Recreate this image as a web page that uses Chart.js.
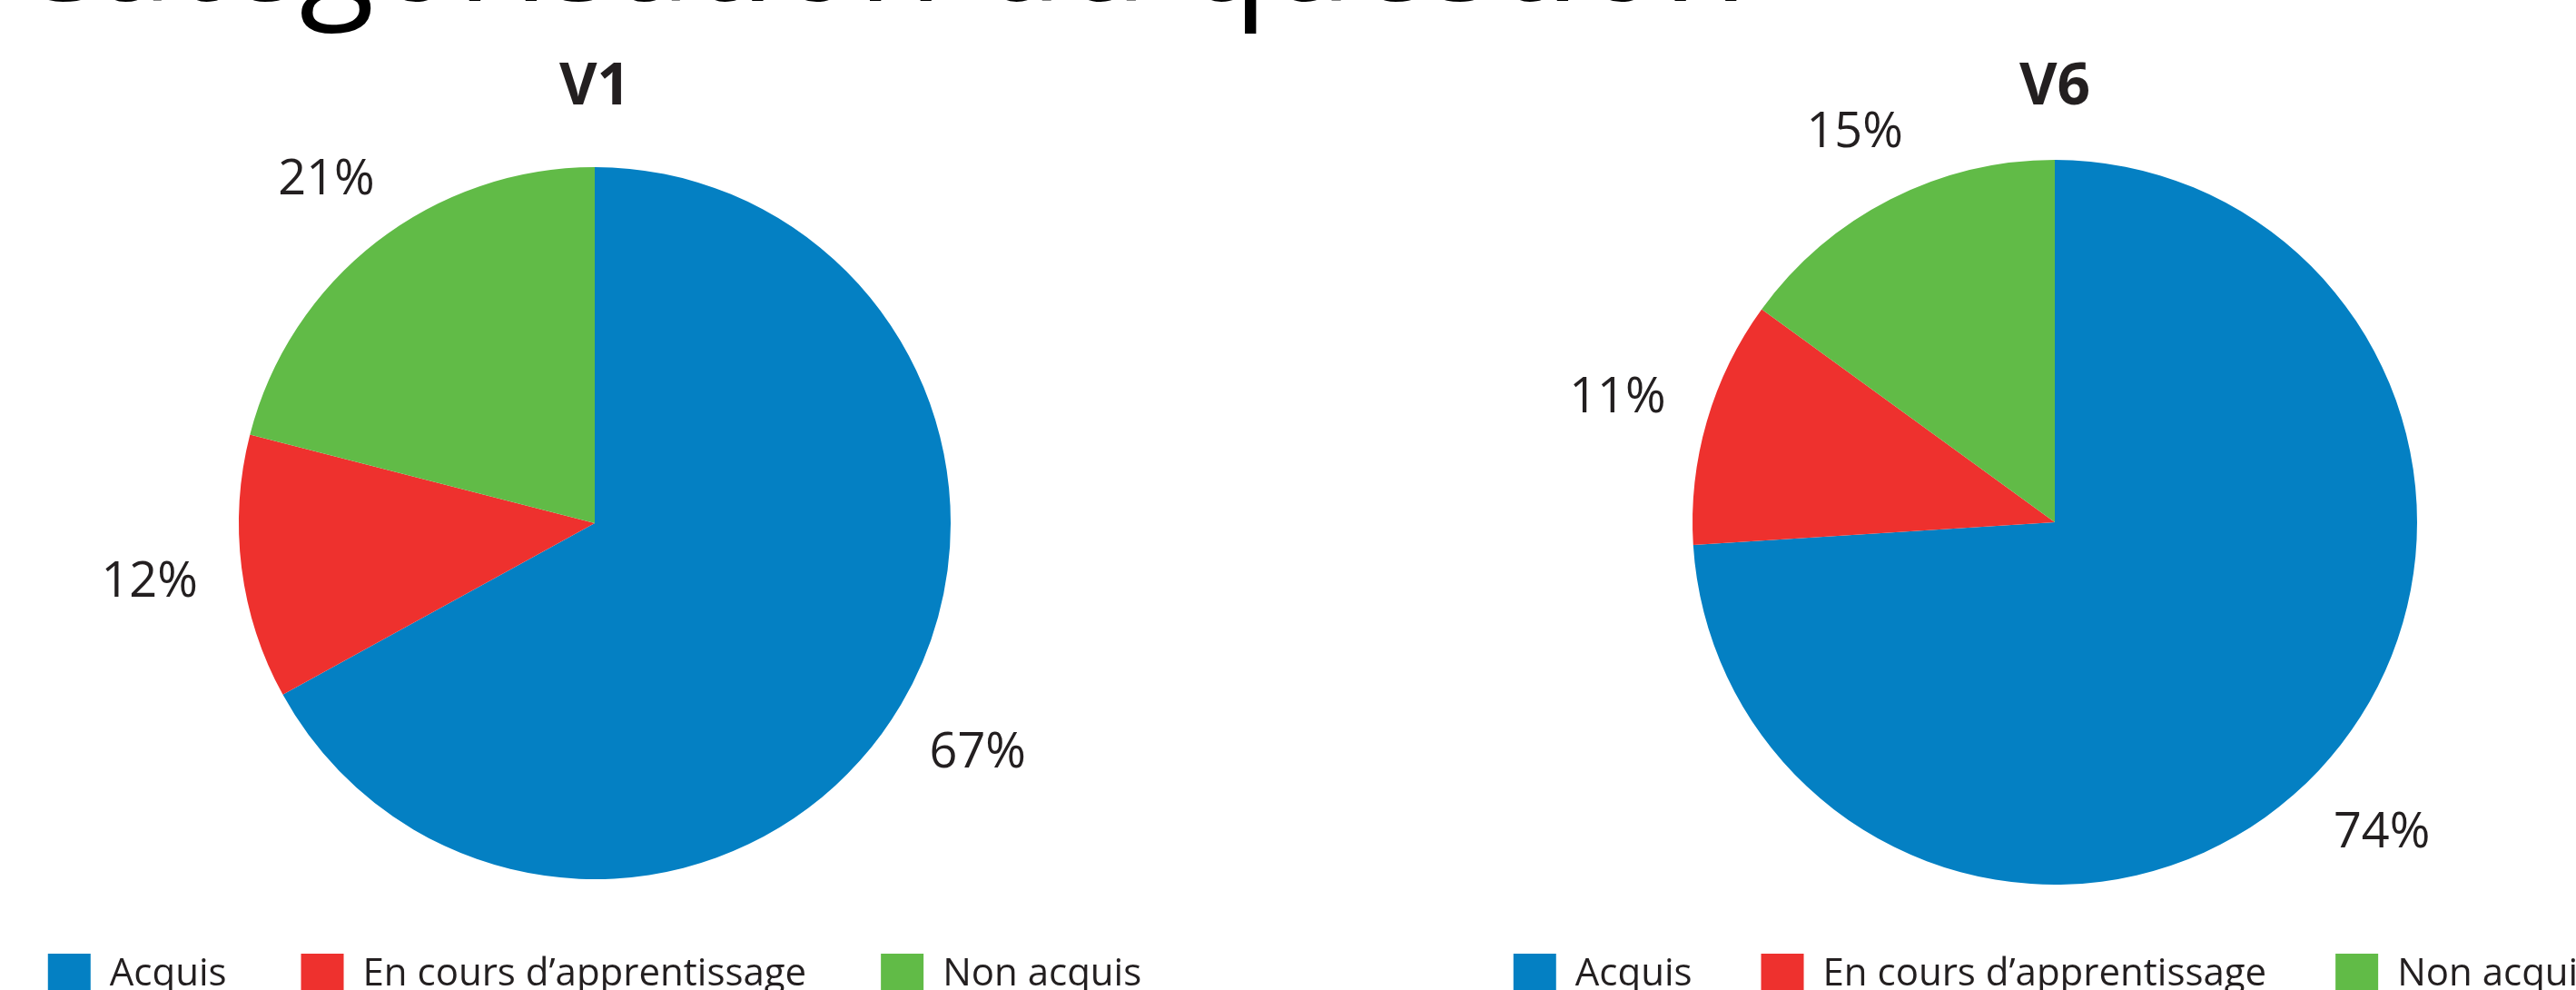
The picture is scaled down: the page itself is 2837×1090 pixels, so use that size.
<!DOCTYPE html>
<html lang="fr">
<head>
<meta charset="utf-8">
<title>V1 / V6</title>
<script src="https://cdn.jsdelivr.net/npm/chart.js@4.4.0/dist/chart.umd.min.js"></script>
<style>
    html, body {
        margin: 0;
        padding: 0;
        width: 2837px;
        height: 1090px;
        overflow: hidden;
        background: #ffffff;
        font-family: "Open Sans", sans-serif;
    }
    .page-title {
        position: absolute;
        left: 10px;
        top: -133px;
        font-size: 152px;
        line-height: 1;
        color: #000000;
        white-space: nowrap;
    }
    .chart-box {
        position: absolute;
        top: 0;
        width: 1500px;
        height: 1107px;
    }
    #boxV1 { left: -95px; }
    #boxV6 { left: 1513px; }
</style>
</head>
<body>
<div class="page-title">Catégorisation du question</div>
<div class="chart-box" id="boxV1"><canvas id="chartV1"></canvas></div>
<div class="chart-box" id="boxV6"><canvas id="chartV6"></canvas></div>

<script>
const categories = ["Acquis", "En cours d’apprentissage", "Non acquis"];
const v1Values = [67, 12, 21];
const v6Values = [74, 11, 15];
const chartTitles = ["V1", "V6"];

const sliceColors = ["#0480c3", "#ee312e", "#61bb47"];
const textColor = "#231f20";
const fontFamily = "'Open Sans', 'Noto Sans', sans-serif";

// percentage labels drawn just outside each slice
const outsideLabels = {
    id: "outsideLabels",
    afterDatasetsDraw(chart) {
        const ctx = chart.ctx;
        const meta = chart.getDatasetMeta(0);
        const values = chart.data.datasets[0].data;

        ctx.save();
        ctx.font = "54px " + fontFamily;
        ctx.fillStyle = textColor;
        ctx.textAlign = "center";
        ctx.textBaseline = "middle";

        meta.data.forEach((arc, i) => {
            const p = arc.getProps(["x", "y", "startAngle", "endAngle", "outerRadius"], true);
            const mid = (p.startAngle + p.endAngle) / 2;
            const text = values[i] + "%";
            const hw = ctx.measureText(text).width / 2;
            const dist = p.outerRadius * 1.18 + hw * Math.abs(Math.cos(mid)) * 0.6;
            ctx.fillText(text, p.x + Math.cos(mid) * dist, p.y + Math.sin(mid) * dist + 4);
        });
        ctx.restore();
    }
};

function makePie(canvasId, title, values, titleGap, legendGap) {
    const ctx = document.getElementById(canvasId).getContext("2d");

    return new Chart(ctx, {
        type: "pie",
        data: {
            labels: categories,
            datasets: [{
                data: values,
                backgroundColor: sliceColors,
                borderWidth: 0
            }]
        },
        options: {
            responsive: true,
            maintainAspectRatio: false,
            animation: false,
            events: [],
            layout: { padding: 0 },
            plugins: {
                title: {
                    display: true,
                    text: title,
                    color: textColor,
                    font: { family: fontFamily, size: 64, weight: "bold", lineHeight: 1 },
                    padding: { top: 64.6, bottom: titleGap }
                },
                legend: {
                    position: "bottom",
                    labels: {
                        boxWidth: 47,
                        boxHeight: 47,
                        padding: legendGap,
                        color: textColor,
                        font: { family: fontFamily, size: 42 }
                    }
                },
                tooltip: { enabled: false }
            }
        },
        plugins: [outsideLabels]
    });
}

makePie("chartV1", chartTitles[0], v1Values, 55.4, 82);
makePie("chartV6", chartTitles[1], v6Values, 47.4, 76);
</script>
</body>
</html>
